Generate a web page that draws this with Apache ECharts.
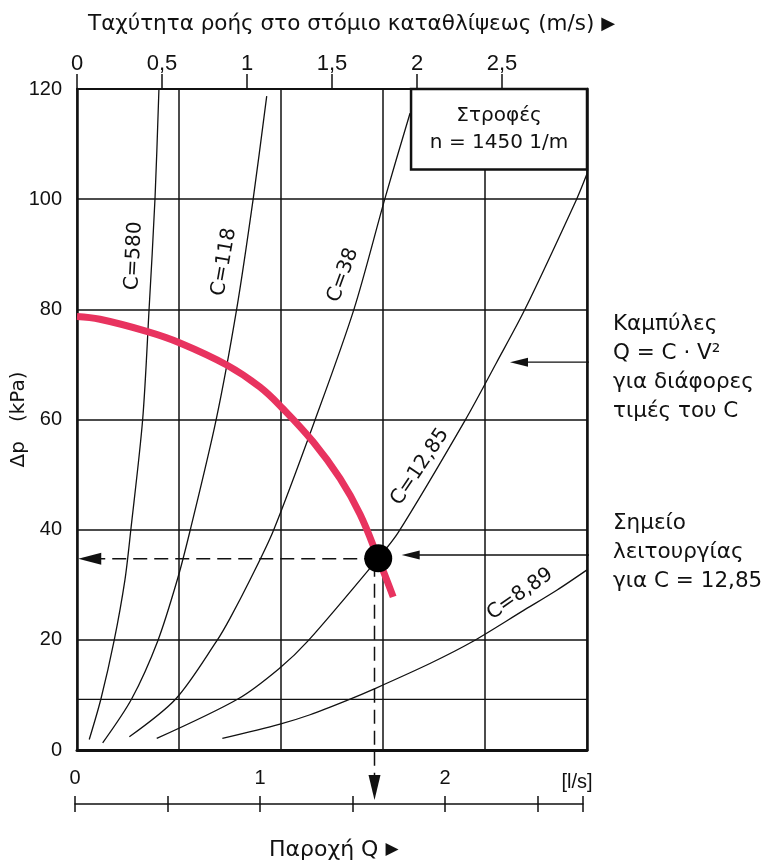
<!DOCTYPE html>
<html><head><meta charset="utf-8">
<script src="https://cdn.jsdelivr.net/npm/echarts@6/dist/echarts.min.js"></script>
<style>html,body{margin:0;padding:0;background:#fff}#c{width:766px;height:861px}</style>
</head><body><div id="c"></div>
<script>
// ---- data (x = flow velocity m/s, y = Δp kPa) ----
const velocityTickLabels = ['0', '0,5', '1', '1,5', '2', '2,5'];
const flowTickLabels = ['0', '1', '2'];
const curveNames = ['C=580', 'C=118', 'C=38', 'C=12,85', 'C=8,89'];
const curveC580 = [[0.072,1.9],[0.141,9.3],[0.218,19.8],[0.282,30.9],[0.316,39.8],[0.386,59.9],[0.424,80.0],[0.459,100.2],[0.482,120]];
const curveC118 = [[0.151,1.3],[0.322,9.3],[0.475,19.8],[0.59,30.9],[0.665,39.8],[0.818,59.9],[0.939,80],[1.037,100.2],[1.116,118.7]];
const curveC38 = [[0.308,2.4],[0.582,9.3],[0.822,19.8],[0.9,23.9],[1.018,30.9],[1.155,39.8],[1.4,59.9],[1.629,80],[1.812,100.2],[1.959,115.6]];
const curveC1285 = [[0.469,2.1],[0.949,9.3],[1.19,14.8],[1.359,19.8],[1.772,34.8],[1.89,39.5],[2.282,59.8],[2.469,70.4],[2.635,80],[2.939,100],[3.0,104.6]];
const curveC889 = [[0.855,2.1],[1.194,4.7],[1.371,6.4],[1.596,9.1],[1.749,11.1],[2.076,15.7],[2.322,19.6],[2.625,25.3],[2.822,29.0],[3.0,32.7]];
const pumpCurve = [[0,78.7],[0.135,78.2],[0.41,76.0],[0.606,73.9],[0.881,69.9],[1.076,65.9],[1.21,62.0],[1.39,55.9],[1.547,49.3],[1.665,42.8],[1.772,34.8],[1.86,27.8]];
const operatingPoint = [1.772, 34.8];
const operatingFlowV = 1.75;     // dashed guide position (m/s)
const extraGridLine = 9.2;       // odd horizontal grid line (kPa)
const boxText = ['Στροφές', 'n = 1450 1/m'];

const FONT = '"Liberation Sans", Arial, Helvetica, sans-serif';
const WIDE = '"DejaVu Sans", "Liberation Sans", sans-serif';
const INK = '#111';

const chart = echarts.init(document.getElementById('c'), null, {renderer: 'canvas'});

function curveSeries(name, data, lab) {
  return {
    name, type: 'line', data, xAxisIndex: 0, yAxisIndex: 0,
    smooth: 0.3, symbol: 'none', z: 3,
    lineStyle: {color: INK, width: 1.3},
    markPoint: {
      symbol: 'circle', symbolSize: 1, silent: true,
      itemStyle: {color: 'rgba(0,0,0,0)'},
      label: {show: true, position: 'inside', formatter: name, rotate: lab.rot,
        color: INK, fontSize: 20, fontFamily: WIDE},
      data: [{coord: lab.at}]
    }
  };
}
function guideLine(data, dashed, width) {
  return {type: 'line', data, xAxisIndex: 0, yAxisIndex: 0, clip: false, z: 5,
    symbol: 'none', silent: true,
    lineStyle: {color: INK, width: width, type: dashed ? [14, 7] : 'solid'}};
}
function arrowHead(at, rot, size) {
  return {type: 'scatter', data: [at], xAxisIndex: 0, yAxisIndex: 0, clip: false, z: 5,
    symbol: 'triangle', symbolRotate: rot, symbolSize: size, silent: true,
    itemStyle: {color: INK, opacity: 1}};
}

const option = {
  animation: false,
  backgroundColor: '#fff',
  title: [
    {text: 'Ταχύτητα ροής στο στόμιο καταθλίψεως (m/s) {t|▶}', left: 83, top: 8,
     textStyle: {fontSize: 21.5, fontWeight: 'normal', color: INK, fontFamily: WIDE,
       rich: {t: {fontSize: 18, color: INK, fontFamily: 'DejaVu Sans'}}}},
    {text: 'Παροχή Q {t|▶}', left: 264, top: 834,
     textStyle: {fontSize: 22, fontWeight: 'normal', color: INK, fontFamily: WIDE,
       rich: {t: {fontSize: 17, color: INK, fontFamily: 'DejaVu Sans'}}}}
  ],
  grid: [
    {left: 77, top: 89, width: 510, height: 661, containLabel: false, outerBoundsMode: 'none'},
    {left: 75, top: 803, width: 508, height: 1, containLabel: false, outerBoundsMode: 'none'},
    {left: 77, top: 74, width: 425, height: 15, containLabel: false, outerBoundsMode: 'none'}
  ],
  xAxis: [
    {gridIndex: 0, type: 'value', position: 'top', min: 0, max: 3, interval: 0.5,
     axisLine: {show: true, onZero: false, lineStyle: {color: INK, width: 2}},
     axisTick: {show: false},
     axisLabel: {show: true, margin: 14, fontSize: 22, color: INK, fontFamily: FONT, showMaxLabel: false,
       formatter: v => velocityTickLabels[Math.round(v / 0.5)] || ''},
     splitLine: {show: false}},
    {gridIndex: 0, type: 'value', position: 'bottom', min: 0, max: 3, interval: 0.6,
     axisLine: {show: true, onZero: false, lineStyle: {color: INK, width: 3}},
     axisTick: {show: false}, axisLabel: {show: false},
     splitLine: {show: true, lineStyle: {color: INK, width: 1.5}}},
    {gridIndex: 1, type: 'value', position: 'bottom', min: 0, max: 2.746, interval: 0.5,
     axisLine: {show: true, onZero: false, lineStyle: {color: INK, width: 1.5}},
     axisTick: {show: true, inside: false, length: 8, lineStyle: {color: INK, width: 1.5}},
     axisLabel: {show: true, inside: true, margin: 16, fontSize: 20, color: INK, fontFamily: FONT,
       formatter: v => (Math.abs(v - Math.round(v)) < 1e-6 ? (flowTickLabels[Math.round(v)] || '') : '')},
     splitLine: {show: false}},
    {gridIndex: 1, type: 'value', position: 'bottom', min: 0, max: 2.746, interval: 0.5,
     axisLine: {show: false, onZero: false},
     axisTick: {show: true, inside: true, length: 8, lineStyle: {color: INK, width: 1.5}},
     axisLabel: {show: false}, splitLine: {show: false}},
    {gridIndex: 2, type: 'value', position: 'bottom', min: 0, max: 2.5, interval: 0.5,
     axisLine: {show: false, onZero: false},
     axisTick: {show: true, inside: true, length: 15, lineStyle: {color: INK, width: 1.5}},
     axisLabel: {show: false}, splitLine: {show: false}}
  ],
  yAxis: [
    {gridIndex: 0, type: 'value', min: 0, max: 120, interval: 20, position: 'left',
     name: 'Δp   (kPa)', nameLocation: 'middle', nameGap: 48, nameRotate: 90, nameMoveOverlap: false,
     nameTextStyle: {fontSize: 20, color: INK, fontFamily: WIDE},
     axisLine: {show: true, onZero: false, lineStyle: {color: INK, width: 2.5}},
     axisTick: {show: false},
     axisLabel: {margin: 15, fontSize: 20, color: INK, fontFamily: FONT},
     splitLine: {show: true, lineStyle: {color: INK, width: 1.5}}},
    {gridIndex: 0, type: 'value', min: 0, max: 120, interval: 20, position: 'right',
     axisLine: {show: true, onZero: false, lineStyle: {color: INK, width: 2.5}},
     axisTick: {show: false}, axisLabel: {show: false}, splitLine: {show: false}},
    {gridIndex: 1, type: 'value', show: false, min: 0, max: 1},
    {gridIndex: 2, type: 'value', show: false, min: 0, max: 1}
  ],
  graphic: [
    {type: 'text', x: 613, y: 309.5, silent: true,
     style: {text: 'Καμπύλες\nQ = C · V²\nγια διάφορες\nτιμές του C', fill: INK,
       font: '21.5px ' + WIDE, lineHeight: 29, textVerticalAlign: 'top', verticalAlign: 'top'}},
    {type: 'text', x: 613, y: 508.5, silent: true,
     style: {text: 'Σημείο\nλειτουργίας\nγια C = 12,85', fill: INK,
       font: '21.5px ' + WIDE, lineHeight: 29, textVerticalAlign: 'top', verticalAlign: 'top'}},
    {type: 'text', x: 577, y: 782, silent: true,
     style: {text: '[l/s]', fill: INK, font: '20px ' + FONT,
       textAlign: 'center', align: 'center', textVerticalAlign: 'middle', verticalAlign: 'middle'}}
  ],
  series: [
    curveSeries(curveNames[0], curveC580, {at: [0.335, 89.7], rot: 87}),
    curveSeries(curveNames[1], curveC118, {at: [0.865, 88.6], rot: 80}),
    curveSeries(curveNames[2], curveC38, {at: [1.565, 86.2], rot: 70}),
    curveSeries(curveNames[3], curveC1285, {at: [2.018, 51.4], rot: 56}),
    curveSeries(curveNames[4], curveC889, {at: [2.606, 28.3], rot: 35}),
    {
      name: 'box', type: 'line', data: [], xAxisIndex: 0, yAxisIndex: 0, z: 4,
      markArea: {
        silent: true,
        itemStyle: {color: '#fff', borderColor: INK, borderWidth: 2.5},
        label: {show: true, position: 'inside', formatter: boxText.join('\n'),
          color: INK, fontSize: 20, lineHeight: 27, fontFamily: WIDE},
        data: [[{coord: [1.965, 120]}, {coord: [3.0, 105.4]}]]
      }
    },
    guideLine([[0, extraGridLine], [3, extraGridLine]], false, 1.3),
    guideLine([[operatingPoint[0], 34.7], [0.075, 34.7]], true, 1.5),
    arrowHead([0.075, 34.7], 90, [12, 23]),
    guideLine([[operatingFlowV, 34], [operatingFlowV, -6.8]], true, 1.5),
    arrowHead([operatingFlowV, -6.8], 180, [12, 25]),
    guideLine([[3.094, 70.4], [2.6, 70.4]], false, 1.3),
    arrowHead([2.6, 70.4], 90, [9, 18]),
    guideLine([[3.082, 35.4], [1.963, 35.4]], false, 1.3),
    arrowHead([1.963, 35.4], 90, [9, 18]),
    {
      name: 'pump', type: 'line', data: pumpCurve, xAxisIndex: 0, yAxisIndex: 0,
      smooth: 0.4, symbol: 'none', z: 6,
      lineStyle: {color: '#E8335F', width: 7, cap: 'butt'}
    },
    {
      name: 'operating', type: 'scatter', data: [operatingPoint], xAxisIndex: 0, yAxisIndex: 0,
      symbol: 'circle', symbolSize: 28, z: 7, itemStyle: {color: '#000', opacity: 1}
    }
  ]
};
chart.setOption(option);
</script>
</body></html>
